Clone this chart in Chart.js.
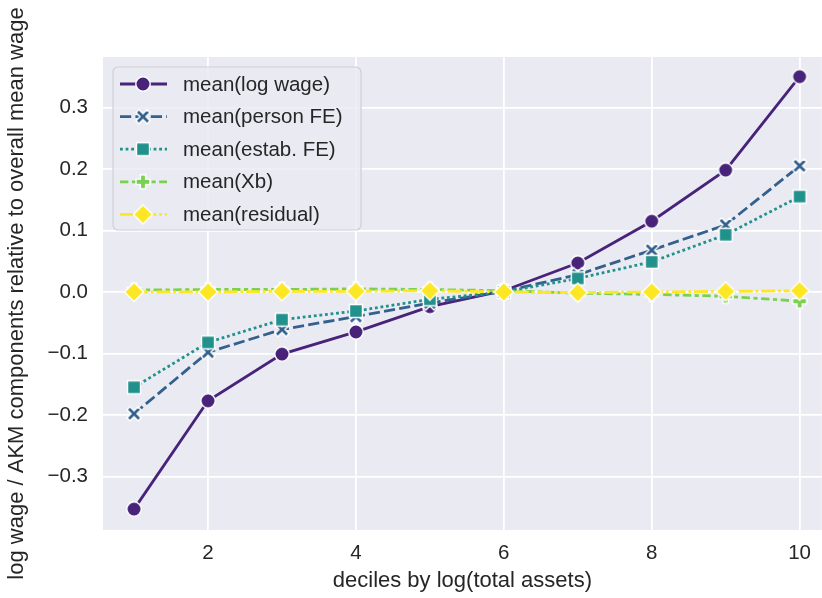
<!DOCTYPE html>
<html>
<head>
<meta charset="utf-8">
<script src="https://cdn.jsdelivr.net/npm/chart.js@4.4.1/dist/chart.umd.min.js"></script>
<style>
    html, body { margin: 0; padding: 0; background: #ffffff; }
    #wrap { width: 822px; height: 598px; position: relative; }
</style>
</head>
<body>
<div id="wrap"><canvas id="chart"></canvas></div>
<script>
// ============================================
// Wage / AKM components by firm-size decile
// ============================================

const deciles = [1, 2, 3, 4, 5, 6, 7, 8, 9, 10];

const logWage   = [-0.353, -0.177, -0.101, -0.065, -0.024, 0.002, 0.047, 0.115, 0.198, 0.350];
const personFE  = [-0.198, -0.098, -0.061, -0.040, -0.018, 0.001, 0.028, 0.068, 0.109, 0.205];
const estabFE   = [-0.155, -0.082, -0.045, -0.031, -0.012, 0.000, 0.022, 0.049, 0.093, 0.155];
const xb        = [0.003, 0.004, 0.004, 0.005, 0.004, 0.002, -0.002, -0.004, -0.007, -0.015];
const residual  = [0.000, 0.000, 0.001, 0.001, 0.002, 0.000, -0.001, 0.000, 0.001, 0.002];

const seriesLabels = ['mean(log wage)', 'mean(person FE)', 'mean(estab. FE)', 'mean(Xb)', 'mean(residual)'];
const xTicks = [2, 4, 6, 8, 10];
const yTicks = [-0.3, -0.2, -0.1, 0.0, 0.1, 0.2, 0.3];

// viridis-like palette
const palette = ['#48237a', '#33608d', '#21918c', '#7ad151', '#fde725'];
const LW = 2.8;
const FONT = '"Liberation Sans", Arial, sans-serif';
const TEXT = '#262626';
const TICK_SIZE = 20.5;
const LABEL_SIZE = 22;

/**
 * Build a marker image with a white edge, drawn by a path callback
 */
function makeMarker(size, color, pathFn) {
    const c = document.createElement('canvas');
    c.width = size;
    c.height = size;
    const g = c.getContext('2d');
    g.translate(size / 2, size / 2);
    g.beginPath();
    pathFn(g);
    g.closePath();
    g.fillStyle = color;
    g.fill();
    g.lineWidth = 1.4;
    g.strokeStyle = '#ffffff';
    g.lineJoin = 'miter';
    g.stroke();
    return c;
}

function polyPath(pts) {
    return (g) => {
        g.moveTo(pts[0][0], pts[0][1]);
        for (let i = 1; i < pts.length; i++) g.lineTo(pts[i][0], pts[i][1]);
    };
}

// filled "X" outline
function xPoints(r, w) {
    const pts = [];
    const base = [[w, 0], [r, r - w], [r - w, r], [0, w]];
    for (let k = 0; k < 4; k++) {
        const a = k * Math.PI / 2;
        const ca = Math.cos(a), sa = Math.sin(a);
        base.forEach(([px, py]) => pts.push([px * ca - py * sa, px * sa + py * ca]));
    }
    return pts;
}

// filled "+" outline
function plusPoints(r, w) {
    return [[-w, -r], [w, -r], [w, -w], [r, -w], [r, w], [w, w], [w, r], [-w, r],
            [-w, w], [-r, w], [-r, -w], [-w, -w]];
}

const markers = [
    makeMarker(18, palette[0], (g) => g.arc(0, 0, 7.2, 0, Math.PI * 2)),
    makeMarker(18, palette[1], polyPath(xPoints(7, 2.9))),
    makeMarker(18, palette[2], polyPath([[-6.5, -6.5], [6.5, -6.5], [6.5, 6.5], [-6.5, 6.5]])),
    makeMarker(18, palette[3], polyPath(plusPoints(7, 2.6))),
    makeMarker(22, palette[4], polyPath([[0, -9.6], [9.6, 0], [0, 9.6], [-9.6, 0]]))
];

const dashes = [
    [],
    [4 * LW, 1.5 * LW],
    [1 * LW, 1 * LW],
    [3 * LW, 1.25 * LW, 1.5 * LW, 1.25 * LW],
    [5 * LW, 1 * LW, 1 * LW, 1 * LW]
];

const seriesValues = [logWage, personFE, estabFE, xb, residual];

const datasets = seriesValues.map((vals, i) => ({
    label: seriesLabels[i],
    data: deciles.map((d, j) => ({ x: d, y: vals[j] })),
    borderColor: palette[i],
    backgroundColor: palette[i],
    borderWidth: LW,
    borderDash: dashes[i],
    pointStyle: markers[i],
    pointRadius: 8,
    pointHoverRadius: 8,
    tension: 0,
    order: 5 - i
}));

// Grey plot background behind the grid
const plotBackground = {
    id: 'plotBackground',
    beforeDraw(chart) {
        const { ctx, chartArea: a } = chart;
        ctx.save();
        ctx.fillStyle = '#eaeaf2';
        ctx.fillRect(a.left, a.top, a.right - a.left, a.bottom - a.top);
        ctx.restore();
    }
};

// Legend box drawn inside the plot, upper left
const insideLegend = {
    id: 'insideLegend',
    afterDraw(chart) {
        const { ctx, chartArea: a } = chart;
        const x0 = a.left + 10, y0 = a.top + 10;
        const w = 248, h = 163, rowH = 32.6;
        ctx.save();
        ctx.beginPath();
        ctx.roundRect(x0, y0, w, h, 5);
        ctx.fillStyle = 'rgba(234,234,242,0.8)';
        ctx.fill();
        ctx.lineWidth = 1.2;
        ctx.strokeStyle = '#cfcfd4';
        ctx.stroke();

        ctx.font = TICK_SIZE + 'px ' + FONT;
        ctx.fillStyle = TEXT;
        ctx.textBaseline = 'middle';
        datasets.forEach((ds, i) => {
            const cy = y0 + 17 + i * rowH;
            ctx.beginPath();
            ctx.setLineDash(ds.borderDash);
            ctx.lineWidth = LW;
            ctx.strokeStyle = ds.borderColor;
            ctx.moveTo(x0 + 7, cy);
            ctx.lineTo(x0 + 54, cy);
            ctx.stroke();
            ctx.setLineDash([]);
            const m = markers[i];
            ctx.drawImage(m, x0 + 30 - m.width / 2, cy - m.height / 2);
            ctx.fillText(ds.label, x0 + 70, cy + 1);
        });
        ctx.restore();
    }
};

const fmt = (v) => v.toFixed(1).replace('-', '\u2212');

new Chart(document.getElementById('chart'), {
    type: 'line',
    data: { datasets: datasets },
    plugins: [plotBackground, insideLegend],
    options: {
        responsive: true,
        maintainAspectRatio: false,
        animation: false,
        layout: { autoPadding: false, padding: { top: 57, right: 0, left: 0, bottom: 0 } },
        plugins: {
            legend: { display: false },
            tooltip: { enabled: false }
        },
        scales: {
            x: {
                type: 'linear',
                min: 0.58,
                max: 10.3,
                afterBuildTicks: (scale) => { scale.ticks = xTicks.map(v => ({ value: v })); },
                afterFit: (scale) => { scale.height = 68; },
                border: { display: false },
                grid: { color: '#ffffff', lineWidth: 1.8, drawTicks: false },
                ticks: {
                    color: TEXT,
                    padding: 11,
                    font: { family: FONT, size: TICK_SIZE },
                    callback: (v) => String(v)
                },
                title: {
                    display: true,
                    text: 'deciles by log(total assets)',
                    color: TEXT,
                    font: { family: FONT, size: LABEL_SIZE },
                    padding: { top: 0, bottom: 4 }
                }
            },
            y: {
                type: 'linear',
                min: -0.387,
                max: 0.382,
                afterBuildTicks: (scale) => { scale.ticks = yTicks.map(v => ({ value: v })); },
                afterFit: (scale) => { scale.width = 103; },
                border: { display: false },
                grid: { color: '#ffffff', lineWidth: 1.8, drawTicks: false },
                ticks: {
                    color: TEXT,
                    padding: 15,
                    font: { family: FONT, size: TICK_SIZE },
                    callback: (v) => fmt(v)
                },
                title: {
                    display: true,
                    text: 'log wage / AKM components relative to overall mean wage',
                    color: TEXT,
                    font: { family: FONT, size: LABEL_SIZE },
                    padding: { top: 4, bottom: 0 }
                }
            }
        }
    }
});
</script>
</body>
</html>
